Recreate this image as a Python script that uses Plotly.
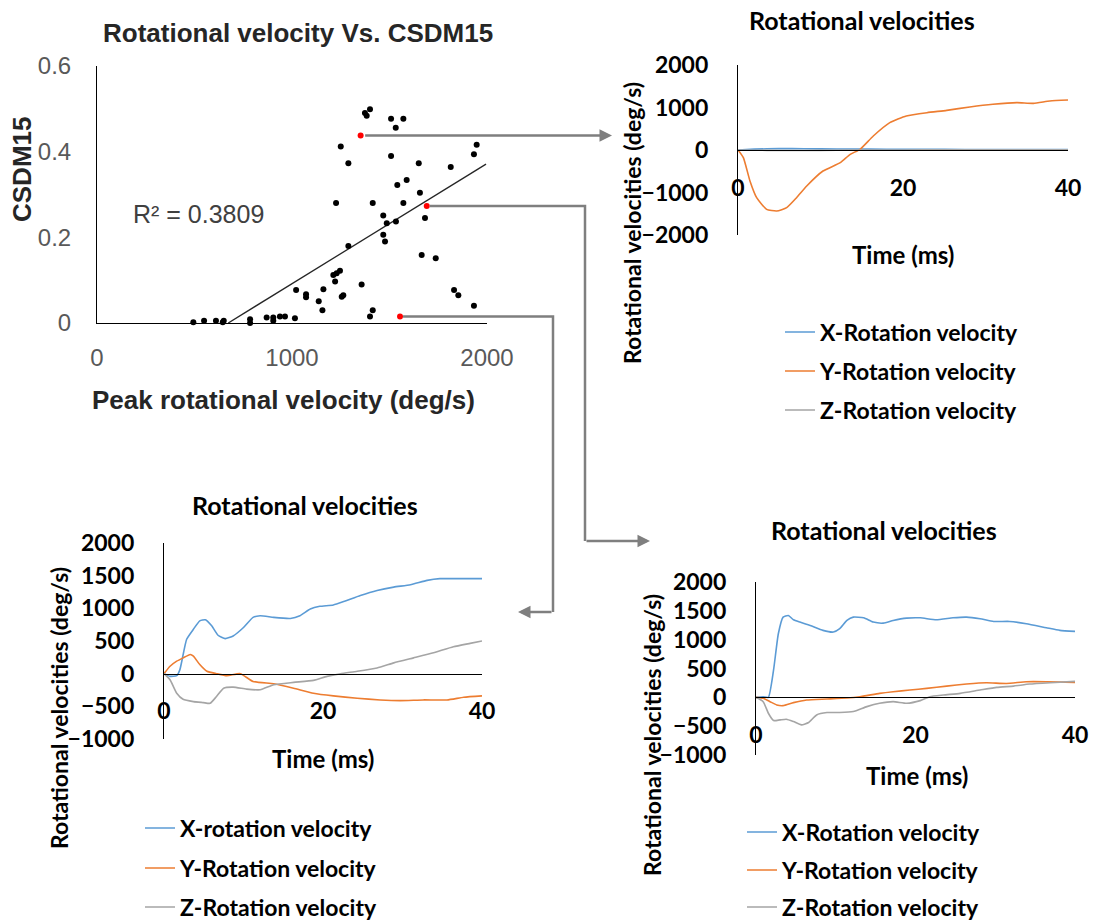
import plotly.graph_objects as go

W, H = 1095, 922

# ---------------- Data ----------------
# Scatter: peak rotational velocity (deg/s) vs CSDM15
PEAK_VEL = [494, 549, 610, 645, 650, 785, 785, 870, 904, 904, 938, 964, 1015,
            1021, 1072, 1072, 1137, 1156, 1161, 1212, 1229, 1246, 1221, 1255, 1263,
            1289, 1357, 1400, 1414,
            1226, 1250, 1289, 1414, 1468, 1468, 1477, 1486, 1533, 1540, 1588, 1571,
            1508, 1650, 1656, 1682, 1665, 1737, 1814, 1933, 1947, 1831, 1853, 1933,
            1374, 1383, 1400, 1508, 1571, 1532]
CSDM15 = [0.002, 0.005, 0.005, 0.002, 0.005, 0.009, 0.000, 0.013, 0.013, 0.005, 0.015, 0.015, 0.011,
          0.077, 0.067, 0.060, 0.051, 0.030, 0.079, 0.112, 0.116, 0.122, 0.097, 0.061, 0.065,
          0.180, 0.090, 0.015, 0.030,
          0.280, 0.412, 0.373, 0.280, 0.251, 0.206, 0.190, 0.233, 0.237, 0.322, 0.334, 0.280,
          0.390, 0.373, 0.304, 0.245, 0.159, 0.151, 0.364, 0.394, 0.416, 0.077, 0.065, 0.040,
          0.490, 0.484, 0.499, 0.477, 0.477, 0.456]
RED_VEL = [1352, 1691, 1554]
RED_CSDM = [0.438, 0.273, 0.015]
TREND_X = [673, 1995]
TREND_Y = [0.0, 0.371]
R2_TEXT = "R² = 0.3809"

# Top-right chart (linked to red point 1)
TR_T = [0, 0.65, 1.45, 2.26, 3.47, 4.69, 5.9, 7.1, 8.33, 10.3, 12.4, 13.6, 14.8, 16.4, 18.4,
        20.4, 22.9, 25.3, 28.1, 30.9, 33.8, 35.8, 37.8, 40]
TR_Y = [0, -180, -729, -1122, -1396, -1435, -1357, -1122, -847, -494, -298, -102, 16, 329, 643,
        800, 878, 933, 1012, 1075, 1114, 1098, 1153, 1176]
TR_XT = [0, 2, 5, 8, 12, 16, 20, 25, 30, 35, 40]
TR_X = [0, 20, 35, 30, 25, 20, 15, 15, 10, 10, 10]
TR_Z = [0, -5, -10, -10, -5, 0, 0, 5, 5, 5, 5]

# Bottom-left chart (linked to red point 3)
BL_XT = [0, 0.76, 1.6, 2.0, 2.85, 3.7, 4.5, 5.2, 6.0, 6.8, 7.7, 8.7, 10.0, 11.2, 12.1, 13.8, 15.9,
         17.1, 18.4, 19.6, 21.3, 22.6, 24.7, 26.8, 28.9, 31.0, 33.1, 34.7, 36.8, 40]
BL_X = [0, -41, -31, 62, 526, 680, 809, 825, 732, 588, 536, 577, 706, 861, 887, 861, 845,
        887, 990, 1031, 1052, 1103, 1196, 1273, 1325, 1361, 1428, 1454, 1454, 1454]
BL_YT = [0, 0.76, 1.6, 2.4, 3.3, 3.7, 4.5, 5.4, 6.6, 7.9, 9.6, 11.2, 13.8, 16.3, 18.8, 21.3,
         24.3, 27.2, 29.7, 32.6, 35.6, 37.7, 40]
BL_Y = [0, 113, 191, 242, 294, 268, 139, 36, 0, -31, 0, -119, -155, -222, -299, -340,
        -376, -402, -412, -402, -402, -361, -340]
BL_ZT = [0, 0.76, 1.6, 2.4, 3.7, 4.95, 5.8, 6.6, 7.5, 8.7, 10.4, 12.1, 13.8, 16.3, 18.8, 20.5,
         22.2, 24.3, 26.8, 28.9, 31.4, 33.9, 36.4, 38.5, 40]
BL_Z = [0, -93, -299, -392, -428, -443, -454, -350, -222, -206, -237, -247, -170, -134, -103,
        -41, 0, 36, 88, 165, 242, 320, 412, 464, 500]

# Bottom-right chart (linked to red point 2)
BR_XT = [0, 0.9, 1.55, 2.2, 2.8, 3.4, 4.05, 4.7, 5.5, 6.8, 8.4, 9.7, 10.5, 11.4, 12.2, 13.5,
         14.7, 15.96, 17.2, 18.9, 20.6, 22.6, 24.7, 26.4, 28.1, 29.8, 31.8, 33.9, 36.4, 38.1, 40]
BR_X = [0, 11, 0, 471, 1103, 1391, 1420, 1345, 1305, 1247, 1161, 1132, 1190, 1333, 1391, 1379,
        1305, 1287, 1333, 1374, 1379, 1345, 1379, 1391, 1362, 1316, 1316, 1276, 1207, 1161, 1144]
BR_YT = [0, 0.9, 1.75, 2.6, 3.4, 4.7, 6.35, 8.9, 11.4, 13.0, 15.5, 17.2, 19.3, 21.4, 23.9,
         26.4, 28.9, 31.4, 33.9, 36.4, 40]
BR_Y = [0, -17, -75, -132, -144, -92, -46, -29, -11, 11, 69, 98, 126, 155, 195, 230, 253,
        241, 270, 270, 259]
BR_ZT = [0, 0.9, 1.55, 2.2, 3.0, 3.8, 4.7, 5.7, 6.6, 7.6, 8.9, 10.5, 12.2, 13.9, 15.5, 17.2,
         18.9, 20.6, 21.8, 23.5, 25.6, 28.1, 30.2, 32.3, 34.3, 36.9, 40]
BR_Z = [0, -75, -276, -402, -391, -379, -420, -477, -437, -305, -264, -264, -247, -161, -103,
        -75, -103, -57, 11, 40, 69, 126, 172, 195, 230, 253, 276]

C_X, C_Y, C_Z = "#5B9BD5", "#ED7D31", "#A5A5A5"

# ---------------- Layout geometry (pixels) ----------------
def px(x):
    return x / W

def py(y):
    return 1 - y / H

SC = dict(x0=97, x1=487, ytop=66, ybot=323, xr=(0, 2000), yr=(0, 0.6))
TR = dict(x0=738, x1=1068, ytop=65, ybot=235, yr=(-2000, 2000))
BL = dict(x0=164, x1=482, ytop=543, ybot=739, yr=(-1000, 2000))
BR = dict(x0=756, x1=1075, ytop=582, ybot=755, yr=(-1000, 2000))

def zero_pos(g):
    lo, hi = g["yr"]
    d0, d1 = py(g["ybot"]), py(g["ytop"])
    return d0 + (0 - lo) / (hi - lo) * (d1 - d0)

def sc_px(v):
    return SC["x0"] + (v - SC["xr"][0]) / (SC["xr"][1] - SC["xr"][0]) * (SC["x1"] - SC["x0"])

def sc_py(v):
    return SC["ybot"] - (v - SC["yr"][0]) / (SC["yr"][1] - SC["yr"][0]) * (SC["ybot"] - SC["ytop"])

fig = go.Figure()

# Scatter chart
fig.add_trace(go.Scatter(x=TREND_X, y=TREND_Y, mode="lines", line=dict(color="#262626", width=1.3),
                         xaxis="x", yaxis="y", showlegend=False, hoverinfo="skip"))
fig.add_trace(go.Scatter(x=PEAK_VEL, y=CSDM15, mode="markers", marker=dict(color="black", size=6),
                         xaxis="x", yaxis="y", showlegend=False, cliponaxis=False))
fig.add_trace(go.Scatter(x=RED_VEL, y=RED_CSDM, mode="markers", marker=dict(color="#FF0000", size=6),
                         xaxis="x", yaxis="y", showlegend=False, cliponaxis=False))

# legend rows: (text start x, row centre y) for each series entry
LEG_ROWS = {
    "TR": (820, [332, 371, 410]),
    "BL": (180, [828, 868, 907]),
    "BR": (782, [832, 870, 907]),
}

leg_count = [0]
legend_defs = {}

def add_series(t, v, name, color, xa, ya, chart, row):
    leg_count[0] += 1
    key = "legend" if leg_count[0] == 1 else f"legend{leg_count[0]}"
    tx, rows = LEG_ROWS[chart]
    legend_defs[key] = (tx - 40, rows[row])
    fig.add_trace(go.Scatter(x=t, y=v, mode="lines", name=name,
                             line=dict(color=color, width=1.6, shape="spline", smoothing=0.5),
                             xaxis=xa, yaxis=ya, legend=key))

add_series(TR_XT, TR_X, "X-Rotation velocity", C_X, "x2", "y2", "TR", 0)
add_series(TR_T, TR_Y, "Y-Rotation velocity", C_Y, "x2", "y2", "TR", 1)
add_series(TR_XT, TR_Z, "Z-Rotation velocity", C_Z, "x2", "y2", "TR", 2)

add_series(BL_XT, BL_X, "X-rotation velocity", C_X, "x3", "y3", "BL", 0)
add_series(BL_YT, BL_Y, "Y-Rotation velocity", C_Y, "x3", "y3", "BL", 1)
add_series(BL_ZT, BL_Z, "Z-Rotation velocity", C_Z, "x3", "y3", "BL", 2)

add_series(BR_XT, BR_X, "X-Rotation velocity", C_X, "x4", "y4", "BR", 0)
add_series(BR_YT, BR_Y, "Y-Rotation velocity", C_Y, "x4", "y4", "BR", 1)
add_series(BR_ZT, BR_Z, "Z-Rotation velocity", C_Z, "x4", "y4", "BR", 2)

ARIAL = "Liberation Sans, Arial"
CAL = "Lato"
trans = "rgba(0,0,0,0)"

sc_tick = dict(family=ARIAL, size=24, color="#595959")
ts_tick = dict(family=CAL, size=23, color="black", weight="bold")

layout = dict(
    width=W, height=H, margin=dict(l=0, r=0, t=0, b=0, pad=0, autoexpand=False),
    paper_bgcolor="white", plot_bgcolor="rgba(0,0,0,0)",
    xaxis=dict(domain=[px(SC["x0"]), px(SC["x1"])], range=list(SC["xr"]), anchor="y",
               tickvals=[0, 1000, 2000], showline=True, linecolor="black", linewidth=1,
               ticks="outside", ticklen=13, tickcolor=trans, tickfont=sc_tick,
               showgrid=False, zeroline=False, automargin=False),
    yaxis=dict(domain=[py(SC["ybot"]), py(SC["ytop"])], range=list(SC["yr"]), anchor="x",
               tickvals=[0, 0.2, 0.4, 0.6], ticktext=["0", "0.2", "0.4", "0.6"],
               showline=True, linecolor="black", linewidth=1,
               ticks="outside", ticklen=20, tickcolor=trans, tickfont=sc_tick,
               showgrid=False, zeroline=False, automargin=False),
)

for i, g, dt in ((2, TR, 1000), (3, BL, 500), (4, BR, 500)):
    layout[f"xaxis{i}"] = dict(domain=[px(g["x0"]), px(g["x1"])], range=[0, 40], anchor="free",
                               position=zero_pos(g), tickvals=[0, 20, 40],
                               showline=True, linecolor="black", linewidth=1.3,
                               ticks="outside", ticklen=17, tickcolor=trans, tickfont=ts_tick,
                               showgrid=False, zeroline=False, automargin=False)
    layout[f"yaxis{i}"] = dict(domain=[py(g["ybot"]), py(g["ytop"])], range=list(g["yr"]),
                               anchor=f"x{i}", dtick=dt, showline=True, linecolor="black", linewidth=1.3,
                               ticks="outside", ticklen=24, tickcolor=trans, tickfont=ts_tick,
                               showgrid=False, zeroline=False, automargin=False)

leg_font = dict(family=CAL, size=23, color="black", weight="bold")
for key, (lx, ly) in legend_defs.items():
    layout[key] = dict(x=px(lx), y=py(ly), xanchor="left", yanchor="middle", font=leg_font,
                       bgcolor=trans, itemwidth=30, tracegroupgap=0)

fig.update_layout(**layout)

# ---------------- Text annotations ----------------
def txt(text, x, y, family, size, color="black", bold=True, angle=0):
    fig.add_annotation(text=text, x=px(x), y=py(y), xref="paper", yref="paper",
                       xanchor="center", yanchor="middle", showarrow=False, textangle=angle,
                       font=dict(family=family, size=size, color=color, weight="bold" if bold else "normal"))

txt("Rotational velocity Vs. CSDM15", 298, 33, ARIAL, 26, "#262626")
txt("CSDM15", 22, 170, ARIAL, 26, "#262626", angle=-90)
txt("Peak rotational velocity (deg/s)", 283, 400, ARIAL, 26, "#262626")
txt(R2_TEXT, 198, 214, ARIAL, 25, "#404040", bold=False)

txt("Rotational velocities", 862, 20, CAL, 25)
txt("Rotational velocities (deg/s)", 632, 223, CAL, 23, angle=-90)
txt("Time (ms)", 903, 255, CAL, 24)

txt("Rotational velocities", 305, 505, CAL, 25)
txt("Rotational velocities (deg/s)", 59, 708, CAL, 23, angle=-90)
txt("Time (ms)", 323, 758, CAL, 24)

txt("Rotational velocities", 884, 530, CAL, 25)
txt("Rotational velocities (deg/s)", 652, 735, CAL, 23, angle=-90)
txt("Time (ms)", 917, 775, CAL, 24)

# ---------------- Connector arrows ----------------
ACOL = "#7F7F7F"
AW = 2.5

def connector(points_px):
    if len(points_px) > 2:
        path = "M " + " L ".join(f"{px(x)},{py(y)}" for x, y in points_px[:-1])
        fig.add_shape(type="path", path=path, xref="paper", yref="paper",
                      line=dict(color=ACOL, width=AW))
    (tx0, ty0), (tx1, ty1) = points_px[-2], points_px[-1]
    fig.add_annotation(x=px(tx1), y=py(ty1), xref="paper", yref="paper", text="",
                       showarrow=True, ax=tx0 - tx1, ay=ty0 - ty1, axref="pixel", ayref="pixel",
                       arrowhead=2, arrowsize=1.0, arrowwidth=AW, arrowcolor=ACOL, standoff=0)

r1 = (sc_px(RED_VEL[0]), sc_py(RED_CSDM[0]))
r2 = (sc_px(RED_VEL[1]), sc_py(RED_CSDM[1]))
r3 = (sc_px(RED_VEL[2]), sc_py(RED_CSDM[2]))
connector([(r1[0] + 3, r1[1]), (612, r1[1])])
connector([(r2[0] + 3, r2[1]), (585, r2[1]), (585, 541), (650, 541)])
connector([(r3[0] + 3, r3[1]), (553, r3[1]), (553, 612), (518, 612)])

fig.write_html("out.html")
